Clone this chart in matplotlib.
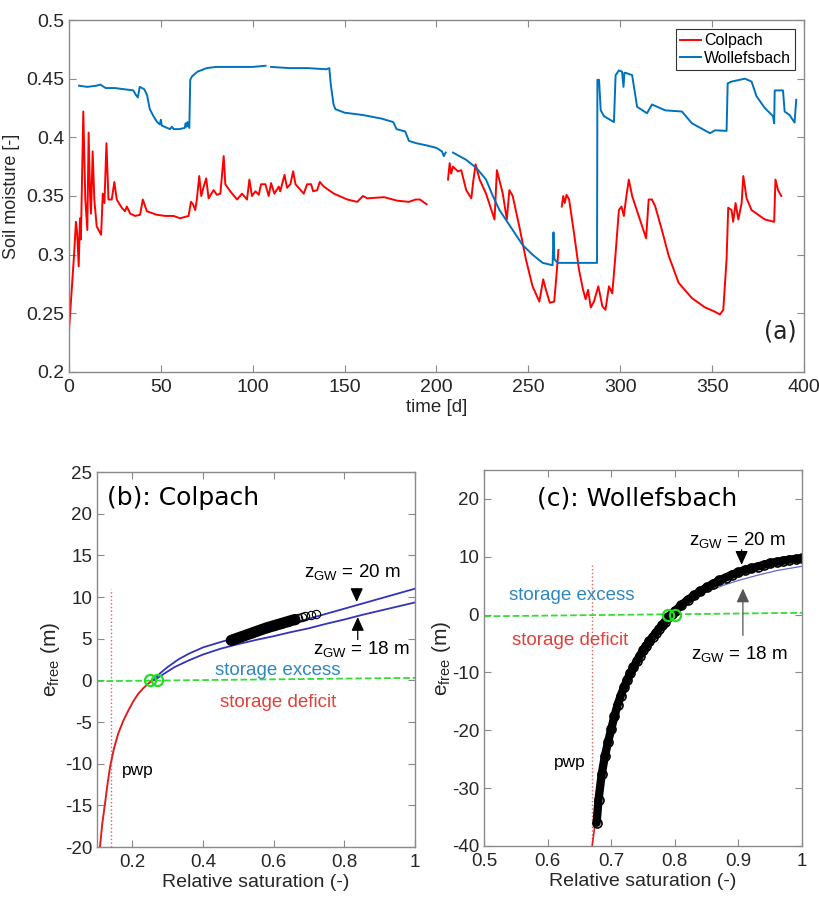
import numpy as np
from matplotlib import pyplot as plt

nan = np.nan

# soil moisture time series (a)
col_day = [0, 1.5, 2.7, 3.8, 4.5, 5.3, 6, 6.5, 7.8, 8.9, 10, 10.7, 11.5, 12, 12.9, 13.8, 15.1,
           17.5, 18.4, 19.3, 20.4, 21.5, 23.3, 24.7, 26, 28.7, 30.5, 31.5, 33.3, 36, 38.7, 40.2,
           42.4, 47.8, 52.4, 56.9, 60.5, 65.1, 66.4, 67.5, 68.7, 69.6, 70.9, 72, 73.3, 74.7, 76,
           78.7, 80.5, 82.4, 84.2, 85.1, 87.8, 91.5, 94.2, 96.9, 98.2, 99.6, 101.5, 103.3, 104.5,
           106.9, 108.7, 110, 111.8, 114.2, 115, 117.3, 118.7, 120.5, 122, 123.3, 127.8, 129.6,
           131.8, 132.9, 135.1, 136.5, 138.7, 144.2, 151.5, 156.9, 160, 162.4, 171.5, 178.7, 185,
           188.7, 191, 194.6, 200,
           206.3, 207.2, 208, 209, 211.7, 213.5, 216.2, 219, 219.9, 221.3, 223.5, 227, 231.6,
           232.9, 236.1, 238.3, 239.7, 241.5, 245.1, 248.7, 252.3, 256, 258.1, 259.6, 261.7,
           264.1, 265.3, 266.4, 267,
           268.2, 269, 269.8, 270.8, 272.2, 274.9, 277.6, 279.8, 281.2, 282.5, 284, 285.7, 288.1,
           290.3, 292, 293.9, 295.7, 297.5, 299.3, 300.7, 302, 303.2, 304.7, 306.5, 310.1, 314.1,
           315.5, 317.3, 319.1, 322.7, 326.4, 331.8, 339, 346.2, 350.7, 354.3, 356.1, 357.9,
           358.8, 360.6, 361.5, 362.8, 364.3, 366.1, 367, 368.8, 371.5, 378.7, 383.8, 384.5,
           385.9, 387.7]
col_sm = [0.235, 0.270, 0.298, 0.328, 0.318, 0.290, 0.331, 0.313, 0.422, 0.347, 0.321, 0.404,
          0.350, 0.335, 0.388, 0.347, 0.324, 0.317, 0.352, 0.344, 0.395, 0.347, 0.347, 0.362,
          0.347, 0.340, 0.337, 0.341, 0.335, 0.333, 0.334, 0.347, 0.337, 0.334, 0.333, 0.333,
          0.331, 0.333, 0.345, 0.343, 0.338, 0.347, 0.367, 0.350, 0.358, 0.365, 0.348, 0.355,
          0.351, 0.352, 0.384, 0.360, 0.354, 0.347, 0.352, 0.347, 0.364, 0.350, 0.354, 0.351,
          0.360, 0.360, 0.350, 0.361, 0.352, 0.358, 0.354, 0.368, 0.357, 0.360, 0.371, 0.360,
          0.352, 0.360, 0.360, 0.354, 0.355, 0.362, 0.358, 0.352, 0.347, 0.345, 0.350, 0.348,
          0.349, 0.346, 0.345, 0.347, 0.347, 0.343, nan,
          0.364, 0.378, 0.369, 0.375, 0.371, 0.372, 0.355, 0.348, 0.361, 0.377, 0.364, 0.352,
          0.330, 0.372, 0.352, 0.330, 0.355, 0.350, 0.324, 0.296, 0.273, 0.260, 0.279, 0.270,
          0.259, 0.260, 0.282, 0.304, nan,
          0.341, 0.350, 0.344, 0.351, 0.347, 0.318, 0.287, 0.270, 0.262, 0.270, 0.255, 0.260,
          0.273, 0.256, 0.253, 0.273, 0.267, 0.301, 0.338, 0.341, 0.333, 0.348, 0.364, 0.350,
          0.333, 0.314, 0.347, 0.347, 0.341, 0.321, 0.299, 0.276, 0.263, 0.255, 0.252, 0.249,
          0.253, 0.296, 0.340, 0.338, 0.328, 0.344, 0.330, 0.344, 0.367, 0.348, 0.338, 0.330,
          0.328, 0.364, 0.355, 0.350]

wol_day = [5.5, 10, 15, 17, 20, 25, 30, 35, 36.5, 37.5, 38.5, 41, 42.5, 44, 46, 48, 49.5, 50,
           50.5, 52, 55, 56, 57, 60, 63, 63.5, 64, 64.5, 65.5, 66, 67, 70, 75, 80, 90, 100, 107,
           108, 110, 120, 130, 140, 141.7, 142.5, 144, 145, 150, 160, 170, 176.5, 178.3, 183,
           185, 189, 195, 200, 203, 204, 205, 206, 209, 216, 221.7, 227, 230.7, 234.3, 241.5,
           247, 252.3, 257.8, 263.2, 263.7, 264.2, 266, 270, 287.4, 287.6, 288.5, 289.4, 291.2,
           296.6, 297.5, 299.3, 301, 301.8, 302.3, 302.9, 306.5, 309.2, 314.6, 317.3, 324.5,
           333.6, 339, 348.9, 351.6, 357.9, 358.5, 360.6, 367.9, 371.5, 374.2, 378.7, 383.2,
           383.8, 384.1, 388.6, 389.5, 392.2, 394.9, 395.8]
wol_sm = [0.444, 0.443, 0.444, 0.445, 0.442, 0.442, 0.441, 0.440, 0.436, 0.434, 0.443, 0.441,
          0.436, 0.424, 0.418, 0.413, 0.411, 0.415, 0.410, 0.409, 0.407, 0.409, 0.407, 0.407,
          0.408, 0.412, 0.409, 0.413, 0.408, 0.449, 0.452, 0.456, 0.459, 0.460, 0.460, 0.460,
          0.461, nan, 0.460, 0.459, 0.459, 0.458, 0.459, 0.445, 0.428, 0.424, 0.421, 0.419,
          0.416, 0.413, 0.407, 0.405, 0.397, 0.395, 0.393, 0.391, 0.388, 0.384, 0.387, nan,
          0.387, 0.381, 0.374, 0.364, 0.350, 0.338, 0.321, 0.308, 0.300, 0.293, 0.291, 0.319,
          0.296, 0.293, 0.293, 0.293, 0.449, 0.449, 0.423, 0.418, 0.413, 0.453, 0.457, 0.456,
          0.443, 0.455, 0.455, 0.453, 0.426, 0.4205, 0.428, 0.423, 0.422, 0.412, 0.4035, 0.406,
          0.4055, 0.446, 0.4475, 0.450, 0.4475, 0.435, 0.425, 0.418, 0.412, 0.440, 0.440, 0.422,
          0.419, 0.4126, 0.432]

# e_free vs relative saturation, Colpach (b)
b_def_s = [0.1085, 0.115, 0.1227, 0.13, 0.137, 0.148, 0.160, 0.175, 0.189, 0.203, 0.217, 0.232,
           0.246, 0.262]
b_def_e = [-20, -17.2, -14.8, -12.4, -10.4, -8.2, -6.4, -4.8, -3.6, -2.5, -1.6, -0.9,
           -0.35, 0.1]
b_s20 = [0.262, 0.28, 0.30, 0.33, 0.36, 0.40, 0.45, 0.50, 0.55, 0.60, 0.65, 0.70, 0.75, 0.80,
         0.85, 0.90, 0.95, 1.0]
b_e20 = [0.1, 0.9, 1.6, 2.5, 3.2, 3.95, 4.6, 5.2, 5.75, 6.3, 6.85, 7.4, 8.0, 8.6, 9.2, 9.8,
         10.4, 11.0]
b_s18 = [0.265, 0.29, 0.32, 0.36, 0.40, 0.45, 0.50, 0.55, 0.60, 0.65, 0.70, 0.75, 0.80, 0.85,
         0.90, 0.95, 1.0]
b_e18 = [0.1, 0.8, 1.6, 2.4, 3.1, 3.8, 4.35, 4.85, 5.3, 5.8, 6.25, 6.8, 7.3, 7.85, 8.35, 8.85,
         9.35]
b_obs_s = [0.48, 0.49, 0.50, 0.52, 0.54, 0.56, 0.58, 0.60, 0.62, 0.64, 0.66]
b_obs_e = [4.8, 4.95, 5.1, 5.4, 5.7, 6.0, 6.3, 6.55, 6.8, 7.05, 7.3]
b_obs2_s = [0.67, 0.68, 0.69, 0.705, 0.72]
b_obs2_e = [7.45, 7.6, 7.7, 7.85, 8.0]
b_pwp = 0.14
b_zero_s = [0.25, 0.27]

# e_free vs relative saturation, Wollefsbach (c)
c_def_s = [0.670, 0.6745, 0.68, 0.685, 0.69, 0.698, 0.705, 0.714, 0.725, 0.735, 0.75, 0.766,
           0.777, 0.787]
c_def_e = [-40, -36.2, -32, -27.6, -24.5, -20.6, -17.6, -14.3, -11.3, -9.1, -6.2, -3.9, -2.3,
           -1.0]
c_s18 = [0.79, 0.80, 0.82, 0.85, 0.88, 0.90, 0.93, 0.96, 1.0]
c_e18 = [-0.5, 0.3, 1.8, 4.0, 5.2, 5.9, 6.8, 7.6, 8.35]
c_obs_s = [0.677, 0.68, 0.685, 0.69, 0.695, 0.70, 0.705, 0.71, 0.715, 0.72, 0.725, 0.73,
           0.735, 0.74, 0.745, 0.75, 0.755, 0.76, 0.765, 0.77, 0.775, 0.78, 0.785, 0.79, 0.795,
           0.80, 0.81, 0.82, 0.83, 0.84, 0.85, 0.86, 0.87, 0.88, 0.89, 0.90, 0.91, 0.92, 0.93,
           0.94, 0.95, 0.96, 0.97, 0.98, 0.99, 1.0]
c_obs_e = [-36, -32, -27.6, -24.5, -22, -19.8, -17.6, -15.6, -14, -12.6, -11.3, -10.1, -9.1,
           -8.1, -7.1, -6.2, -5.4, -4.6, -3.9, -3.2, -2.5, -1.8, -1.2, -0.5, 0.1, 0.6, 1.6, 2.5,
           3.3, 4.0, 4.7, 5.3, 5.9, 6.4, 6.9, 7.3, 7.7, 8.0, 8.3, 8.6, 8.9, 9.1, 9.3, 9.5, 9.6,
           9.75]
c_pwp = 0.67
c_zero_s = [0.79, 0.80]

plt.rcParams['font.family'] = ['Liberation Sans', 'DejaVu Sans']
plt.rcParams['axes.unicode_minus'] = False
plt.rcParams['axes.edgecolor'] = '#8a8a8a'
plt.rcParams['xtick.color'] = '#8a8a8a'
plt.rcParams['ytick.color'] = '#8a8a8a'
plt.rcParams['xtick.labelcolor'] = '#262626'
plt.rcParams['ytick.labelcolor'] = '#262626'
plt.rcParams['mathtext.fontset'] = 'custom'
plt.rcParams['mathtext.rm'] = 'Liberation Sans'
plt.rcParams['mathtext.it'] = 'Liberation Sans'

ex_col = '#2f86c0'
def_col = '#e0403a'
curve_blue = '#3333bb'


def style(ax, size=13.5):
    ax.tick_params(direction='in', top=True, right=True, length=5, width=0.8, labelsize=size)
    ax.tick_params(axis='x', pad=5)
    for s in ax.spines.values():
        s.set_linewidth(1.0)


def arrow(ax, tip, tail, color='k'):
    ax.annotate('', xy=tip, xytext=tail,
                arrowprops=dict(arrowstyle='-|>,head_length=0.7,head_width=0.32',
                                color=color, lw=0.9, mutation_scale=12, shrinkA=0, shrinkB=0))


fig = plt.figure(figsize=(8.19, 8.97), dpi=100)

# (a) time series
ax = fig.add_axes([0.0842, 0.5853, 0.8974, 0.3924])
ax.plot(col_day, col_sm, color='#ff0000', lw=1.4, label='Colpach')
ax.plot(wol_day, wol_sm, color='#0072bd', lw=1.4, label='Wollefsbach')
ax.set_xlim(0, 400)
ax.set_ylim(0.2, 0.5)
ax.set_xticks(np.arange(0, 401, 50))
yt = [0.2, 0.25, 0.3, 0.35, 0.4, 0.45, 0.5]
ax.set_yticks(yt)
ax.set_yticklabels(['0.2', '0.25', '0.3', '0.35', '0.4', '0.45', '0.5'])
style(ax, 14)
ax.set_xlabel('time [d]', fontsize=13.5, color='#262626', labelpad=2)
ax.set_ylabel('Soil moisture [-]', fontsize=13, color='#262626', labelpad=4)
leg = ax.legend(loc='upper right', fontsize=11.5, handlelength=1.3, handletextpad=0.2,
                borderpad=0.25, labelspacing=0.15, fancybox=False, framealpha=1,
                borderaxespad=0, bbox_to_anchor=(0.988, 0.974))
leg.get_frame().set_edgecolor('#333333')
leg.get_frame().set_linewidth(0.8)
ax.text(0.99, 0.115, '(a)', transform=ax.transAxes, ha='right', va='center',
        fontsize=17, family='DejaVu Sans', color='#222222')

# (b) Colpach
ax = fig.add_axes([0.1184, 0.0557, 0.3883, 0.4181])
ax.plot([b_pwp, b_pwp], [-20, 11], ls=':', color='#e06060', lw=1.0)
ax.plot([0.1, 1.0], [-0.1, 0.3], ls='--', color='#33dd33', lw=1.3)
ax.plot(b_def_s, b_def_e, color='#dd2020', lw=1.4)
ax.plot(b_s20, b_e20, color=curve_blue, lw=1.3)
ax.plot(b_s18, b_e18, color=curve_blue, lw=1.3)
ax.plot(b_obs_s, b_obs_e, color='k', lw=8, solid_capstyle='round')
ax.plot(b_obs_s + b_obs2_s, b_obs_e + b_obs2_e, 'o', mfc='none', mec='k', ms=6, mew=0.8)
ax.plot(b_zero_s, [0, 0], 'o', mfc='none', mec='#22dd22', ms=8, mew=1.6)
ax.set_xlim(0.1, 1)
ax.set_ylim(-20, 25)
ax.set_xticks([0.2, 0.4, 0.6, 0.8, 1.0])
ax.set_xticklabels(['0.2', '0.4', '0.6', '0.8', '1'])
ax.set_yticks(np.arange(-20, 26, 5))
style(ax)
ax.set_xlabel('Relative saturation (-)', fontsize=14, color='#262626', labelpad=2)
ax.set_ylabel(r'e$_{\rm free}$ (m)', fontsize=15, color='#262626', labelpad=2)
ax.text(0.128, 21.9, '(b): Colpach', fontsize=18, family='DejaVu Sans', va='center')
ax.text(0.823, 13.0, r'z$_{\rm GW}$ = 20 m', fontsize=13.5, ha='center', va='center')
ax.text(0.849, 3.8, r'z$_{\rm GW}$ = 18 m', fontsize=13.5, ha='center', va='center')
arrow(ax, (0.835, 9.4), (0.835, 11.0))
arrow(ax, (0.838, 7.6), (0.838, 4.9))
ax.text(0.613, 1.2, 'storage excess', fontsize=13.5, color=ex_col, ha='center', va='center')
ax.text(0.613, -2.7, 'storage deficit', fontsize=13.5, color=def_col, ha='center', va='center')
ax.text(0.216, -10.8, 'pwp', fontsize=12.5, ha='center', va='center')

# (c) Wollefsbach
ax = fig.add_axes([0.5910, 0.0569, 0.3883, 0.4192])
ax.plot([c_pwp, c_pwp], [-40, 8.5], ls=':', color='#e06060', lw=1.0)
ax.plot([0.5, 1.0], [-0.3, 0.3], ls='--', color='#33dd33', lw=1.3)
ax.plot(c_def_s, c_def_e, color='#dd2020', lw=1.2)
ax.plot(c_s18, c_e18, color='#6666cc', lw=0.9)
ax.plot(c_obs_s, c_obs_e, color='k', lw=6, solid_capstyle='round')
ax.plot(c_obs_s, c_obs_e, 'o', mfc='none', mec='k', ms=6.5, mew=1.2)
ax.plot(c_zero_s, [0, 0], 'o', mfc='none', mec='#22dd22', ms=8, mew=1.6)
ax.set_xlim(0.5, 1)
ax.set_ylim(-40, 25)
ax.set_xticks([0.5, 0.6, 0.7, 0.8, 0.9, 1.0])
ax.set_xticklabels(['0.5', '0.6', '0.7', '0.8', '0.9', '1'])
ax.set_yticks(np.arange(-40, 21, 10))
style(ax)
ax.set_xlabel('Relative saturation (-)', fontsize=14, color='#262626', labelpad=2)
ax.set_ylabel(r'e$_{\rm free}$ (m)', fontsize=15, color='#262626', labelpad=-1)
ax.text(0.583, 20.1, '(c): Wollefsbach', fontsize=18, family='DejaVu Sans', va='center')
ax.text(0.898, 12.9, r'z$_{\rm GW}$ = 20 m', fontsize=13.5, ha='center', va='center')
ax.text(0.902, -6.8, r'z$_{\rm GW}$ = 18 m', fontsize=13.5, ha='center', va='center')
arrow(ax, (0.905, 8.6), (0.905, 11.2))
arrow(ax, (0.907, 4.5), (0.907, -3.6), color='#555555')
ax.text(0.638, 3.3, 'storage excess', fontsize=13.5, color=ex_col, ha='center', va='center')
ax.text(0.635, -4.5, 'storage deficit', fontsize=13.5, color=def_col, ha='center', va='center')
ax.text(0.635, -25.6, 'pwp', fontsize=12.5, ha='center', va='center')

fig.savefig('out.png', dpi=100)
